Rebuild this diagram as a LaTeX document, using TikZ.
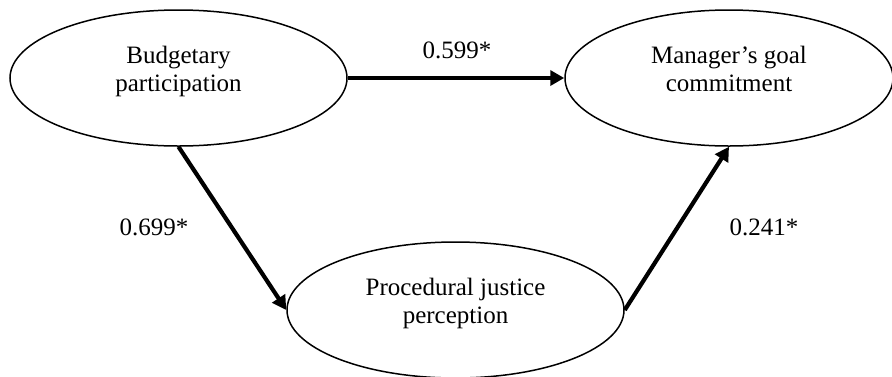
\documentclass[tikz,border=0pt]{standalone}
\usepackage{fontspec}
\setmainfont{Liberation Serif}
\usetikzlibrary{shapes.geometric,arrows.meta}
\begin{document}
\begin{tikzpicture}[x=1pt,y=1pt,
  latent/.style={ellipse,draw,line width=1.5pt,minimum width=337pt,minimum height=136pt,
    inner sep=0pt,align=center,font=\fontsize{25}{28}\selectfont},
  path/.style={line width=4.2pt,-{Triangle[length=14pt,width=15pt]}},
  coef/.style={font=\fontsize{25}{28}\selectfont,inner sep=0pt}]
\useasboundingbox (0,0) rectangle (892,-376);
\node[latent] (bp) at (178.5,-78) {Budgetary\\participation\rule[-18pt]{0pt}{0pt}};
\node[latent,minimum width=328pt] (mgc) at (729,-78) {Manager’s goal\\commitment\rule[-18pt]{0pt}{0pt}};
\node[latent] (pjp) at (455.5,-310) {Procedural justice\\perception\rule[-18pt]{0pt}{0pt}};
\draw[path] (bp.east) -- (mgc.west);
\draw[path] (bp.south) -- (pjp.west);
\draw[path] (pjp.east) -- (mgc.south);
\node[coef] (c1) at (457,-50) {0.599*};
\node[coef] (c2) at (154,-227) {0.699*};
\node[coef] (c3) at (764,-227) {0.241*};
\end{tikzpicture}
\end{document}
